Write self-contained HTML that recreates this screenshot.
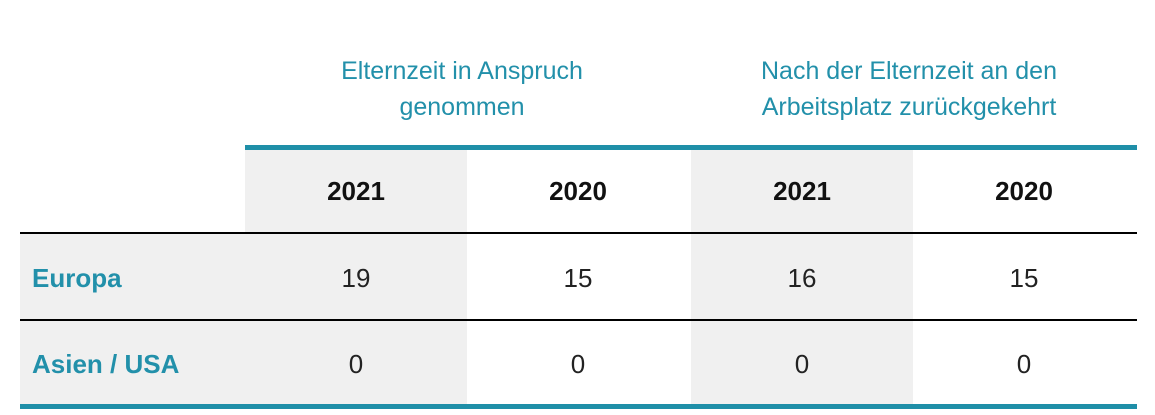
<!DOCTYPE html>
<html><head><meta charset="utf-8"><style>
body{margin:0;width:1155px;height:415px;background:#fff;position:relative;overflow:hidden;font-family:"Liberation Sans",sans-serif}
div{position:absolute}
.g{background:#f0f0f0}
.t{color:#2290aa;font-size:25px;text-align:center;line-height:36px;font-weight:300}
.h{font-weight:bold;font-size:26px;color:#111;text-align:center;width:222px}
.n{font-size:26px;color:#222;text-align:center;width:222px}
.l{font-weight:bold;font-size:26px;color:#2290aa;left:32px}
</style></head><body>
<div class="g" style="left:245px;top:150px;width:222px;height:255px"></div>
<div class="g" style="left:691px;top:150px;width:222px;height:255px"></div>
<div class="g" style="left:20px;top:234px;width:225px;height:171px"></div>
<div style="left:245px;top:145px;width:892px;height:5px;background:#1f8fa8"></div>
<div style="left:20px;top:232px;width:1117px;height:2px;background:#000"></div>
<div style="left:20px;top:319px;width:1117px;height:2px;background:#000"></div>
<div style="left:20px;top:404px;width:1117px;height:5px;background:#1f8fa8"></div>
<div class="t" style="left:262px;top:53px;width:400px">Elternzeit in Anspruch<br>genommen</div>
<div class="t" style="left:709px;top:53px;width:400px">Nach der Elternzeit an den<br>Arbeitsplatz zurückgekehrt</div>
<div class="h" style="left:245px;top:176px">2021</div>
<div class="h" style="left:467px;top:176px">2020</div>
<div class="h" style="left:691px;top:176px">2021</div>
<div class="h" style="left:913px;top:176px">2020</div>
<div class="l" style="top:263px">Europa</div>
<div class="l" style="top:349px">Asien / USA</div>
<div class="n" style="left:245px;top:263px">19</div>
<div class="n" style="left:467px;top:263px">15</div>
<div class="n" style="left:691px;top:263px">16</div>
<div class="n" style="left:913px;top:263px">15</div>
<div class="n" style="left:245px;top:349px">0</div>
<div class="n" style="left:467px;top:349px">0</div>
<div class="n" style="left:691px;top:349px">0</div>
<div class="n" style="left:913px;top:349px">0</div>
</body></html>
